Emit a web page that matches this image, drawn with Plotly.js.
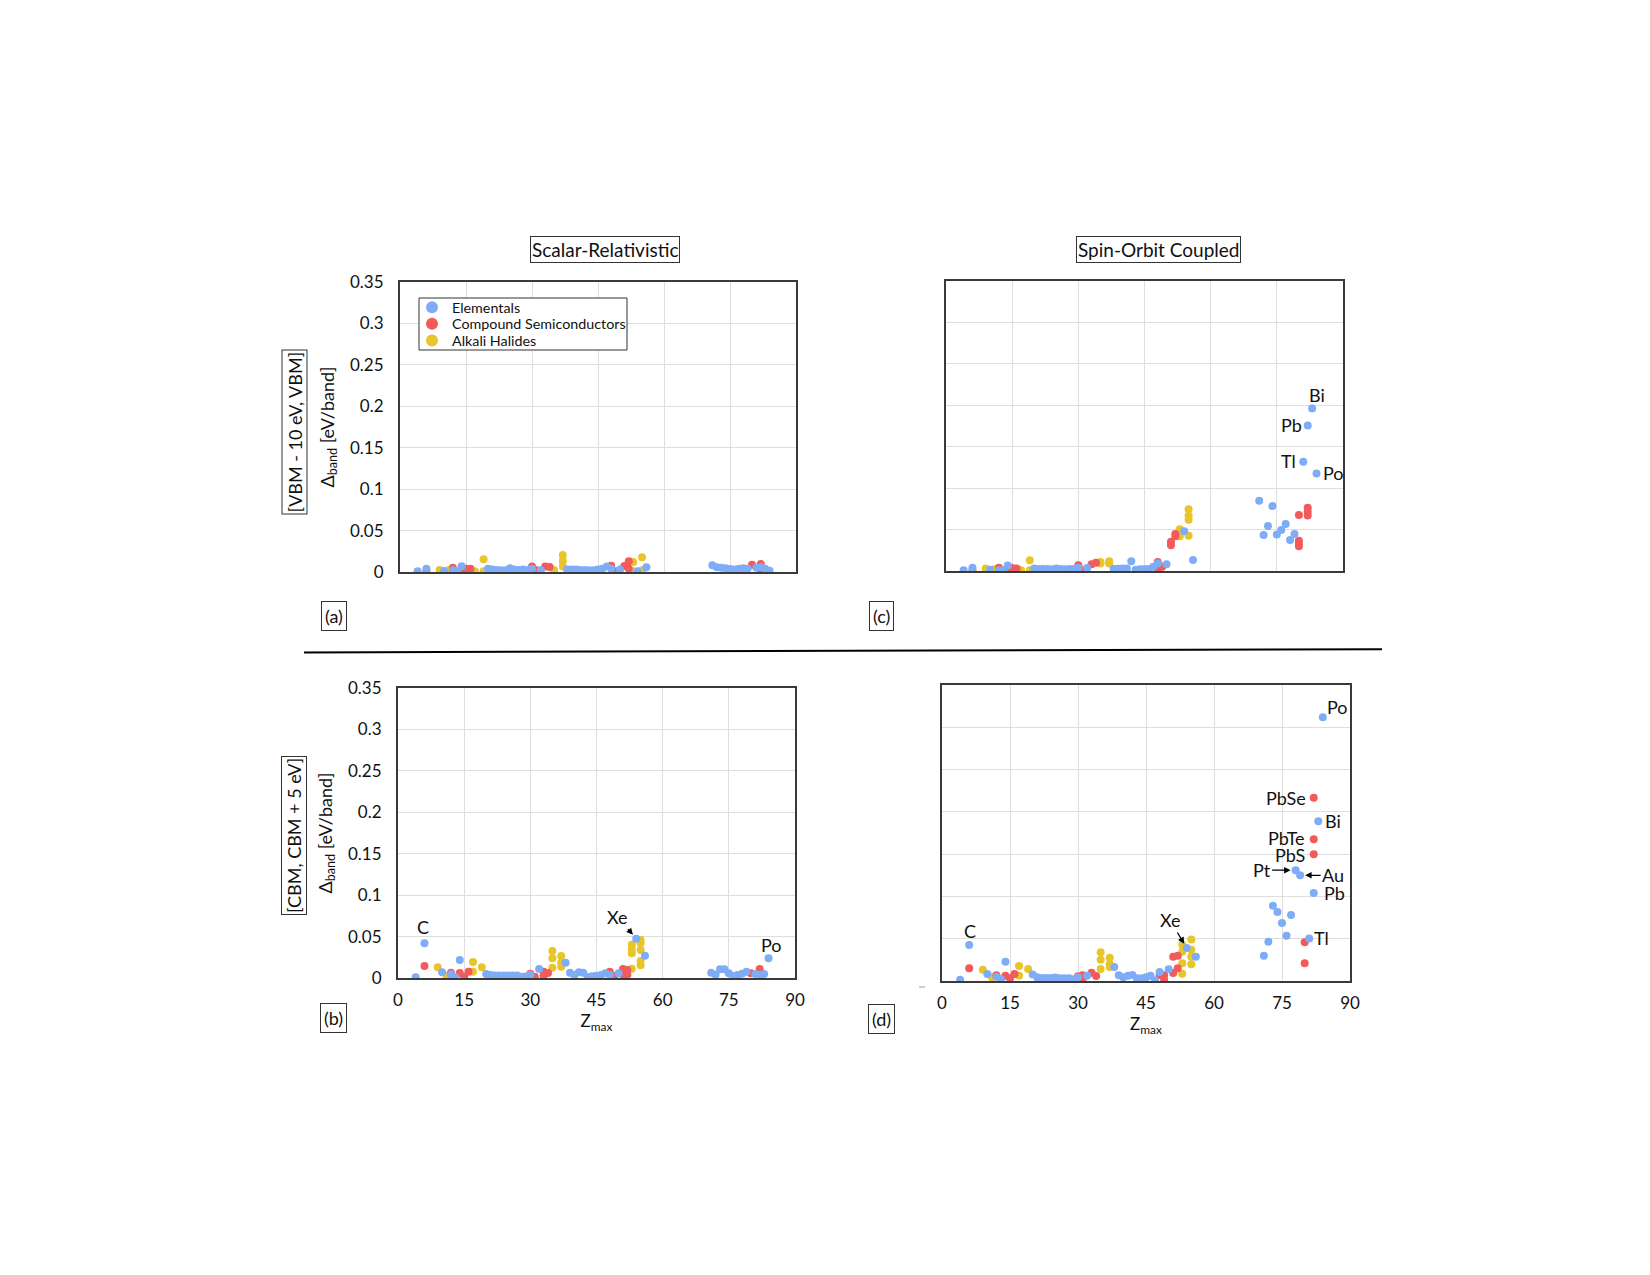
<!DOCTYPE html>
<html>
<head>
<meta charset="utf-8">
<script src="https://cdn.plot.ly/plotly-3.0.1.min.js"></script>
<style>
  html, body { margin: 0; padding: 0; background: #ffffff; }
  #chart { width: 1650px; height: 1275px; }
</style>
</head>
<body>
<div id="chart"></div>
<script>
// ---------------- DATA ----------------
// Shared Z values of the elemental solids
const elemZ = [4,6,10,12,13,14,20,21,22,23,24,25,26,27,28,29,30,32,38,39,40,41,42,43,44,45,46,47,48,50,54,56,71,72,73,74,75,76,77,78,79,81,82,83,84];

// (a) Scalar-relativistic, [VBM - 10 eV, VBM]
const aElemV = [0.001,0.004,0.0012,0.002,0.001,0.007,0.004,0.003,0.0025,0.002,0.002,0.0045,0.003,0.0025,0.003,0.0025,0.004,0.002,0.003,0.003,0.003,0.0025,0.0025,0.002,0.002,0.003,0.004,0.0065,0.004,0.003,0.001,0.0056,0.008,0.0056,0.005,0.0045,0.0036,0.003,0.004,0.0045,0.004,0.005,0.006,0.004,0.0016];
const aCompZ = [6,12,14,15,16,30,31,33,34,48,49,51,52,52,80,82,82];
const aCompV = [0.001,0.005,0.002,0.004,0.004,0.0065,0.002,0.0065,0.006,0.0076,0.001,0.0072,0.013,0.004,0.0088,0.0096,0.002];
const aAlkZ = [9,11,17,19,19,35,37,37,37,53,53,55,55];
const aAlkV = [0.0025,0.002,0.001,0.0153,0.001,0.0025,0.0205,0.0133,0.0065,0.012,0.001,0.0177,0.002];

// (b) Scalar-relativistic, [CBM, CBM + 5 eV]
const bElemV = [0.001,0.042,0.0068,0.0044,0.001,0.0217,0.0048,0.0036,0.003,0.003,0.003,0.003,0.003,0.003,0.0015,0.0018,0.004,0.011,0.0185,0.0064,0.0036,0.0068,0.0064,0.0012,0.002,0.0028,0.0036,0.0056,0.0036,0.0056,0.0475,0.027,0.0064,0.004,0.0105,0.0105,0.0056,0.0024,0.0036,0.005,0.0076,0.0048,0.004,0.0048,0.0237];
const bCompZ = [6,12,14,15,16,30,30,31,33,33,34,48,49,51,51,52,52,80,82];
const bCompV = [0.0145,0.0064,0.006,0.0016,0.0076,0.0052,0.002,0.0016,0.0076,0.003,0.006,0.0076,0.0024,0.0109,0.004,0.0097,0.004,0.0056,0.0109];
const bAlkZ = [9,11,17,17,19,35,35,35,37,37,37,53,53,53,53,55,55,55,55,55];
const bAlkV = [0.0129,0.0024,0.0193,0.0076,0.0129,0.0326,0.0237,0.0125,0.0266,0.0185,0.0137,0.040,0.0346,0.0298,0.0113,0.0459,0.042,0.0338,0.0205,0.0153];

// (c) Spin-orbit coupled, [VBM - 10 eV, VBM]
const cElemV = [0.001,0.004,0.0015,0.001,0.001,0.0065,0.003,0.0025,0.0025,0.0025,0.002,0.003,0.0025,0.002,0.0025,0.0025,0.004,0.0036,0.0028,0.0028,0.003,0.003,0.0117,0.0015,0.002,0.0025,0.0025,0.005,0.009,0.008,0.048,0.0133,0.0848,0.0434,0.0542,0.0783,0.0442,0.0494,0.0566,0.0374,0.0446,0.132,0.1756,0.196,0.1177];
const cCompZ = [6,12,14,15,16,30,31,33,34,48,48,49,51,51,52,52,80,80,80,80,82,82,82];
const cCompV = [0.001,0.004,0.002,0.0035,0.003,0.0068,0.001,0.008,0.01,0.011,0.001,0.005,0.0354,0.031,0.0446,0.042,0.0675,0.0366,0.033,0.030,0.0764,0.0716,0.067];
const cAlkZ = [9,11,17,19,19,35,35,37,37,53,53,55,55,55,55];
const cAlkV = [0.003,0.002,0.001,0.013,0.001,0.011,0.009,0.0117,0.009,0.0503,0.042,0.0744,0.0667,0.062,0.0426];

// (d) Spin-orbit coupled, [CBM, CBM + 5 eV]
const dElemV = [0.0015,0.0426,0.0083,0.005,0.002,0.0228,0.0077,0.0043,0.0035,0.0035,0.0035,0.004,0.0032,0.0032,0.0032,0.002,0.0043,0.0063,0.0165,0.0067,0.0043,0.0063,0.007,0.0032,0.0032,0.0043,0.0063,0.001,0.0105,0.014,0.039,0.0287,0.030,0.0465,0.089,0.0815,0.0686,0.0536,0.078,0.131,0.125,0.0504,0.104,0.189,0.312];
const dCompZ = [6,12,14,15,16,30,31,31,33,34,48,49,49,51,51,52,52,80,80,82,82,82];
const dCompV = [0.015,0.0067,0.0063,0.0032,0.0083,0.0055,0.0067,0.001,0.0098,0.006,0.007,0.0067,0.0016,0.0094,0.0287,0.015,0.030,0.0457,0.021,0.2167,0.1675,0.150];
const dAlkZ = [9,11,17,17,19,35,35,35,37,37,37,53,53,53,53,55,55,55,55];
const dAlkV = [0.0134,0.0043,0.0177,0.0063,0.0142,0.0339,0.025,0.0142,0.0276,0.0198,0.0165,0.043,0.0347,0.021,0.0087,0.049,0.037,0.0287,0.0197];

// Point labels (text, Z, value)
const bLabelText = ['C','Xe','Po'];
const bLabelZ = [6,54,84];
const bLabelV = [0.042,0.0475,0.0237];
const cLabelText = ['Bi','Pb','Tl','Po'];
const cLabelZ = [83,82,81,84];
const cLabelV = [0.196,0.1756,0.132,0.1177];
const dLabelText = ['C','Xe','Po','PbSe','Bi','PbTe','PbS','Pt','Au','Pb','Tl'];
const dLabelZ = [6,54,84,82,83,82,82,78,79,82,81];
const dLabelV = [0.0426,0.039,0.312,0.2167,0.189,0.1675,0.150,0.131,0.125,0.104,0.0504];

const seriesNames = ['Elementals','Compound Semiconductors','Alkali Halides'];
const xTicks = [0,15,30,45,60,75,90];
const yTicks = [0,0.05,0.1,0.15,0.2,0.25,0.3,0.35];

// ---------------- STYLE ----------------
const FONT = 'Lato, "Open Sans", sans-serif';
const TXT = '#111111';
const COLORS = ['#7FACF6', '#F35A5A', '#E8C52A'];
const W = 1650, H = 1275;
const px = v => v / W;
const py = v => 1 - v / H;
const legendIds = ['legend', 'legend2', 'legend3'];
const legendRowY = [307.5, 324, 340.7];

const panels = [
  {ax: '',  el: aElemV, cz: aCompZ, cv: aCompV, kz: aAlkZ, kv: aAlkV, legend: true},
  {ax: '2', el: bElemV, cz: bCompZ, cv: bCompV, kz: bAlkZ, kv: bAlkV, legend: false},
  {ax: '3', el: cElemV, cz: cCompZ, cv: cCompV, kz: cAlkZ, kv: cAlkV, legend: false},
  {ax: '4', el: dElemV, cz: dCompZ, cv: dCompV, kz: dAlkZ, kv: dAlkV, legend: false}
];

const traces = [];
panels.forEach(p => {
  const sets = [[elemZ, p.el], [p.cz, p.cv], [p.kz, p.kv]];
  // draw alkali first, then compounds, then elementals on top
  [2, 1, 0].forEach(i => {
    traces.push({
      type: 'scatter', mode: 'markers',
      x: sets[i][0], y: sets[i][1],
      name: seriesNames[i], legendgroup: seriesNames[i], legend: legendIds[i],
      showlegend: p.legend,
      xaxis: 'x' + p.ax, yaxis: 'y' + p.ax,
      marker: {color: COLORS[i], size: 8, line: {width: 0}},
      hovertemplate: 'Z=%{x}<br>%{y}<extra>' + seriesNames[i] + '</extra>'
    });
  });
});

function xAxis(domain, labels, title) {
  const a = {
    domain: domain, range: [0, 90], tickvals: xTicks, ticktext: xTicks.map(String),
    showgrid: true, gridcolor: '#dedede', gridwidth: 1, zeroline: false,
    showline: true, mirror: true, linecolor: '#3a3a3a', linewidth: 2,
    ticks: '', showticklabels: labels, ticklabelstandoff: 6,
    tickfont: {family: FONT, size: 17, color: TXT}, fixedrange: true
  };
  if (title) a.title = {text: 'Z<sub>max</sub>', font: {family: FONT, size: 17, color: TXT}, standoff: 3};
  return a;
}
function yAxis(domain, labels, anchor) {
  const a = {
    domain: domain, range: [0, 0.35], tickvals: yTicks, ticktext: yTicks.map(String),
    showgrid: true, gridcolor: '#dedede', gridwidth: 1, zeroline: false,
    showline: true, mirror: true, linecolor: '#3a3a3a', linewidth: 2,
    ticks: '', showticklabels: labels, ticklabelstandoff: 11,
    tickfont: {family: FONT, size: 17, color: TXT}, fixedrange: true, anchor: anchor
  };
  if (labels) a.title = {text: '\u0394<sub>band</sub> [eV/band]', font: {family: FONT, size: 18, color: TXT}, standoff: 11};
  return a;
}

function legendAt(rowY) {
  return {
    x: px(412), y: py(rowY), xanchor: 'left', yanchor: 'middle',
    bgcolor: 'rgba(0,0,0,0)', borderwidth: 0,
    font: {family: FONT, size: 14.3, color: TXT},
    itemsizing: 'constant', itemwidth: 30
  };
}

const layout = {
  width: W, height: H,
  margin: {l: 0, r: 0, t: 0, b: 0},
  paper_bgcolor: '#ffffff', plot_bgcolor: '#ffffff',
  font: {family: FONT, color: TXT},
  showlegend: true,
  legend: legendAt(legendRowY[0]),
  legend2: legendAt(legendRowY[1]),
  legend3: legendAt(legendRowY[2]),
  xaxis:  xAxis([px(400), px(796)], false, false),
  yaxis:  yAxis([py(572), py(282)], true, 'x'),
  xaxis2: Object.assign(xAxis([px(398), px(795)], true, true), {anchor: 'y2'}),
  yaxis2: yAxis([py(978), py(688)], true, 'x2'),
  xaxis3: Object.assign(xAxis([px(946), px(1343)], false, false), {anchor: 'y3'}),
  yaxis3: yAxis([py(571), py(281)], false, 'x3'),
  xaxis4: Object.assign(xAxis([px(942), px(1350)], true, true), {anchor: 'y4'}),
  yaxis4: yAxis([py(981), py(685)], false, 'x4'),
  shapes: [
    // legend frame (white box behind the three legend rows)
    {type: 'rect', xref: 'paper', yref: 'paper', x0: px(419), y0: py(350), x1: px(627), y1: py(298),
     fillcolor: '#ffffff', line: {color: '#333333', width: 1}, layer: 'above'},
    // divider between top and bottom rows
    {type: 'line', xref: 'paper', yref: 'paper', x0: px(304), y0: py(652.4), x1: px(1382), y1: py(649.3),
     line: {color: '#000000', width: 2}},
    {type: 'line', xref: 'paper', yref: 'paper', x0: px(919), y0: py(987), x1: px(925), y1: py(987),
     line: {color: '#9a9a9a', width: 1}}
  ],
  annotations: []
};

function boxed(text, x, y, size, angle, pad) {
  return {text: text, xref: 'paper', yref: 'paper', x: px(x), y: py(y),
          xanchor: 'center', yanchor: 'middle', showarrow: false, textangle: angle || 0,
          bordercolor: '#333333', borderwidth: 1, borderpad: pad || 1,
          font: {family: FONT, size: size, color: TXT}};
}
layout.annotations.push(boxed('Scalar-Relativistic', 604.5, 249, 19));
layout.annotations.push(boxed('Spin-Orbit Coupled', 1158.5, 249, 19));
layout.annotations.push(boxed('[VBM - 10 eV, VBM]', 294, 432.5, 18, -90));
layout.annotations.push(boxed('[CBM, CBM + 5 eV]', 294, 836, 18, -90));
layout.annotations.push(boxed('(a)', 333.5, 616, 18, 0, 3));
layout.annotations.push(boxed('(c)', 881, 616, 18, 0, 3));
layout.annotations.push(boxed('(b)', 333.5, 1018, 18, 0, 3));
layout.annotations.push(boxed('(d)', 881.5, 1018.5, 18, 0, 3));

// label placement styles: [xanchor, xshift, yshift, arrow ax, arrow ay]
const labelStyle = {
  b: {C: ['center', -1, 16], Xe: ['center', 0, 0, -19, -22], Po: ['center', 3, 13]},
  c: {Bi: ['center', 5, 14], Pb: ['right', -4, 1], Tl: ['right', -5, 1], Po: ['left', 4, 0]},
  d: {C: ['center', 1, 14], Xe: ['center', 0, 0, -17, -28], Po: ['left', 2, 10],
      PbSe: ['right', -6, 0], Bi: ['left', 5, 0], PbTe: ['right', -7, 1], PbS: ['right', -7, -1],
      Pt: ['center', 0, 0, -34, 0], Au: ['center', 0, 0, 33, 0], Pb: ['left', 8, 0], Tl: ['left', 3, 0]}
};
function addLabels(key, ax, texts, zs, vs) {
  texts.forEach((t, i) => {
    const s = labelStyle[key][t];
    const a = {text: t, x: zs[i], y: vs[i], xref: 'x' + ax, yref: 'y' + ax,
               font: {family: FONT, size: 18, color: TXT}};
    if (s.length > 3) {
      Object.assign(a, {showarrow: true, ax: s[3], ay: s[4], arrowhead: 2, arrowsize: 1,
                        arrowwidth: 1.3, arrowcolor: '#000000', standoff: 5});
    } else {
      Object.assign(a, {showarrow: false, xanchor: s[0], yanchor: 'middle', xshift: s[1], yshift: s[2]});
    }
    layout.annotations.push(a);
  });
}
addLabels('b', '2', bLabelText, bLabelZ, bLabelV);
addLabels('c', '3', cLabelText, cLabelZ, cLabelV);
addLabels('d', '4', dLabelText, dLabelZ, dLabelV);

Plotly.newPlot('chart', traces, layout, {staticPlot: true, displayModeBar: false});
</script>
</body>
</html>
